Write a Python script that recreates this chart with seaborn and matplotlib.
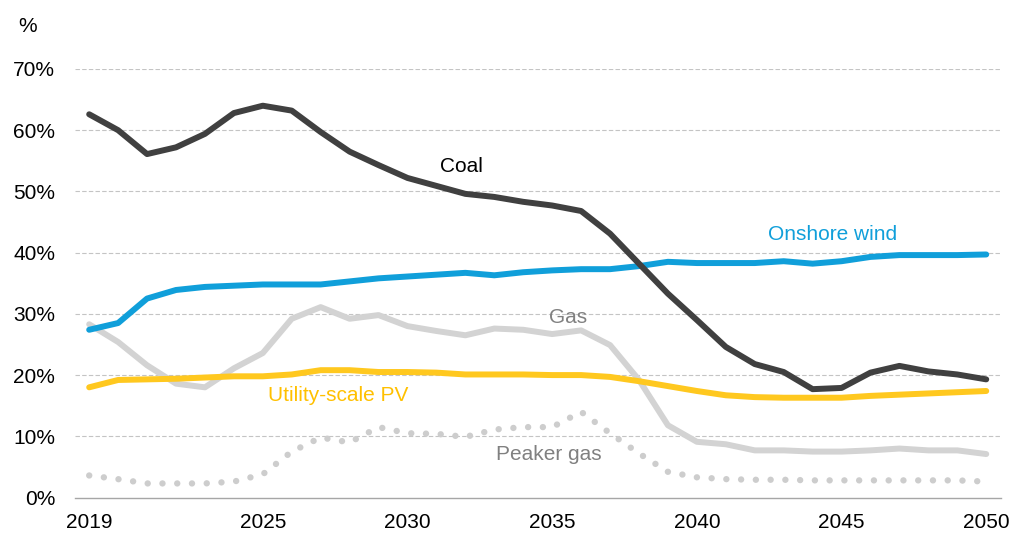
import matplotlib
matplotlib.use("Agg")
import matplotlib.pyplot as plt
import seaborn as sns
import pandas as pd
from matplotlib.ticker import FixedLocator, FuncFormatter

# Capacity factor by technology, 2019-2050 (%)
years = list(range(2019, 2051))
coal = [62.6, 60.0, 56.1, 57.2, 59.4, 62.8, 64.0, 63.2, 59.7, 56.5, 54.3, 52.2,
        50.9, 49.6, 49.1, 48.3, 47.7, 46.8, 43.1, 38.2, 33.3, 29.0, 24.6, 21.8,
        20.5, 17.7, 17.9, 20.4, 21.5, 20.6, 20.1, 19.3]
onshore_wind = [27.4, 28.5, 32.5, 33.9, 34.4, 34.6, 34.8, 34.8, 34.8, 35.3, 35.8, 36.1,
                36.4, 36.7, 36.3, 36.8, 37.1, 37.3, 37.3, 37.8, 38.5, 38.3, 38.3, 38.3,
                38.6, 38.2, 38.6, 39.3, 39.6, 39.6, 39.6, 39.7]
utility_pv = [18.0, 19.2, 19.3, 19.4, 19.6, 19.8, 19.8, 20.1, 20.8, 20.8, 20.5, 20.5,
              20.4, 20.1, 20.1, 20.1, 20.0, 20.0, 19.7, 19.0, 18.2, 17.4, 16.7, 16.4,
              16.3, 16.3, 16.3, 16.6, 16.8, 17.0, 17.2, 17.4]
gas = [28.3, 25.4, 21.6, 18.6, 18.0, 21.1, 23.6, 29.2, 31.1, 29.2, 29.8, 28.0,
       27.2, 26.5, 27.6, 27.4, 26.7, 27.3, 24.9, 19.2, 11.8, 9.1, 8.7, 7.7,
       7.7, 7.5, 7.5, 7.7, 8.0, 7.7, 7.7, 7.1]
peaker_gas = [3.6, 3.0, 2.3, 2.3, 2.3, 2.6, 3.8, 7.5, 9.8, 9.0, 11.5, 10.5,
              10.4, 9.9, 11.1, 11.5, 11.5, 14.0, 10.5, 7.2, 4.2, 3.3, 3.0, 2.9,
              2.9, 2.8, 2.8, 2.8, 2.8, 2.8, 2.8, 2.6]

year_labels = [2019, 2025, 2030, 2035, 2040, 2045, 2050]
y_ticks = [0, 10, 20, 30, 40, 50, 60, 70]

C_COAL = "#404040"
C_WIND = "#109fda"
C_PV = "#ffc81f"
C_GAS = "#d3d3d3"
C_PEAKER = "#cdcdcd"
C_TEXT_GRAY = "#808080"

sns.set_theme(style="white")
plt.rcParams["font.family"] = ["Liberation Sans", "DejaVu Sans"]

df = pd.DataFrame({"year": years, "coal": coal, "wind": onshore_wind,
                   "pv": utility_pv, "gas": gas, "peaker": peaker_gas})

fig = plt.figure(figsize=(10.25, 5.36), dpi=100)
ax = fig.add_axes([0.0729, 0.0718, 0.9034, 0.7995])

lw = 4.3
common = dict(solid_capstyle="round", solid_joinstyle="round")

# Peaker gas: round dots along the path
sns.lineplot(data=df, x="year", y="peaker", ax=ax, color=C_PEAKER, linewidth=4.6, zorder=2)
dotted = ax.lines[-1]
dotted.set_linestyle((0, (0.01, 2.3)))
dotted.set_dash_capstyle("round")

sns.lineplot(data=df, x="year", y="gas", ax=ax, color=C_GAS, linewidth=lw, zorder=3, **common)
sns.lineplot(data=df, x="year", y="pv", ax=ax, color=C_PV, linewidth=lw, zorder=4, **common)
sns.lineplot(data=df, x="year", y="wind", ax=ax, color=C_WIND, linewidth=lw, zorder=5, **common)
sns.lineplot(data=df, x="year", y="coal", ax=ax, color=C_COAL, linewidth=lw, zorder=6, **common)

ax.set_xlim(2018.5, 2050.5)
ax.set_ylim(0, 70)
ax.set_xlabel("")
ax.set_ylabel("")

# Dashed horizontal gridlines
for v in y_ticks[1:]:
    ax.axhline(v, color="#c4c4c4", linewidth=0.8, linestyle=(0, (4, 2)), zorder=1)

for side in ["top", "right", "left"]:
    ax.spines[side].set_visible(False)
ax.spines["bottom"].set_color("#a6a6a6")
ax.spines["bottom"].set_linewidth(1.0)

ax.xaxis.set_major_locator(FixedLocator(year_labels))
ax.xaxis.set_minor_locator(FixedLocator([y - 0.5 for y in range(2019, 2052)]))
ax.tick_params(axis="x", which="major", length=0, pad=11, labelsize=15, labelcolor="#000000")
ax.tick_params(axis="x", which="minor", length=4.2, width=1.0, color="#a6a6a6", direction="out")
ax.set_yticks(y_ticks)
ax.yaxis.set_major_formatter(FuncFormatter(lambda v, _: f"{int(v)}%"))
ax.tick_params(axis="y", length=0, pad=14, labelsize=15, labelcolor="#000000")

# Series labels
ax.text(2031.86, 53.1, "Coal", color="#000000", fontsize=15, ha="center", va="baseline")
ax.text(2044.7, 42.0, "Onshore wind", color=C_WIND, fontsize=15, ha="center", va="baseline")
ax.text(2035.54, 28.5, "Gas", color=C_TEXT_GRAY, fontsize=15, ha="center", va="baseline")
ax.text(2027.6, 15.8, "Utility-scale PV", color="#ffc000", fontsize=15, ha="center", va="baseline")
ax.text(2034.9, 6.2, "Peaker gas", color=C_TEXT_GRAY, fontsize=15, ha="center", va="baseline")

fig.text(18 / 1025, 1 - 32 / 536, "%", fontsize=15, color="#000000", ha="left", va="baseline")

fig.savefig("out.png", dpi=100)
